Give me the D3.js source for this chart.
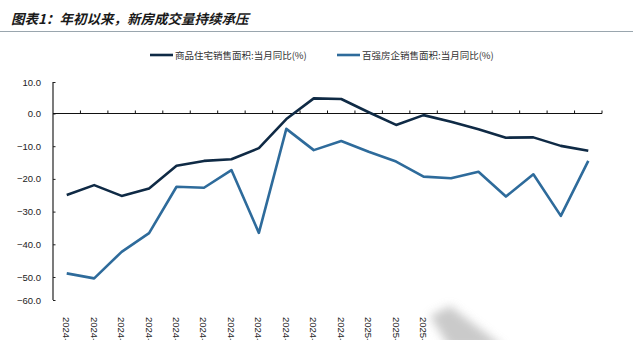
<!DOCTYPE html>
<html>
<head>
<meta charset="utf-8">
<script src="https://cdn.jsdelivr.net/npm/d3@7/dist/d3.min.js"></script>
<style>
  html, body { margin: 0; padding: 0; background: #fff; }
  svg { display: block; }
</style>
</head>
<body>
<svg id="chart" width="640" height="340"></svg>
<script>
// Monthly categories (Jan–Feb 2025 reported together)
const months = [
  "2024-02", "2024-03", "2024-04", "2024-05", "2024-06", "2024-07",
  "2024-08", "2024-09", "2024-10", "2024-11", "2024-12",
  "2025-02", "2025-03", "2025-04", "2025-05", "2025-06",
  "2025-07", "2025-08", "2025-09", "2025-10"
];
// Month labels printed under the axis
const labelledMonths = months.slice(0, 14);

// 商品住宅销售面积 当月同比 (%)
const residentialYoY = [
  -24.9, -21.9, -25.2, -22.9, -16.0, -14.5, -14.0, -10.6, -1.7, 4.8,
  4.6, 0.4, -3.5, -0.5, -2.5, -4.8, -7.4, -7.3, -9.9, -11.4
];
// 百强房企销售面积 当月同比 (%)
const top100YoY = [
  -48.9, -50.6, -42.3, -36.6, -22.4, -22.7, -17.3, -36.5, -4.7, -11.2,
  -8.4, -11.7, -14.7, -19.3, -19.8, -17.8, -25.4, -18.6, -31.3, -14.5
];

const yTicks = [10, 0, -10, -20, -30, -40, -50, -60];
const seriesNames = ["商品住宅销售面积:当月同比(%)", "百强房企销售面积:当月同比(%)"];
const seriesColors = ["#0f2a45", "#2e6b9b"];
const titleText = "图表1：年初以来，新房成交量持续承压";

const svg = d3.select("#chart");
const cjk = "'Noto Sans CJK SC', 'Noto Sans', sans-serif";
const latin = "'Liberation Sans', Arial, sans-serif";

// Title and rule beneath it
svg.append("text")
  .attr("x", 11).attr("y", 24)
  .attr("font-family", cjk)
  .attr("font-size", 13.5)
  .attr("font-weight", 700)
  .attr("font-style", "italic")
  .attr("fill", "#1a1a1a")
  .text(titleText);

svg.append("line")
  .attr("x1", 0).attr("x2", 633)
  .attr("y1", 31.5).attr("y2", 31.5)
  .attr("stroke", "#9aa6ae").attr("stroke-width", 1.2);

// Scales
const x = d3.scaleBand().domain(months).range([53, 602]);
const y = d3.scaleLinear()
  .domain([-60, -50, 0, 10])
  .range([300, 277, 113.5, 82]);

// Y axis
const yAxis = d3.axisRight(y)
  .tickValues(yTicks)
  .tickFormat(d3.format(".1f"))
  .tickSize(2.5);
const yg = svg.append("g").attr("transform", "translate(53,0)").call(yAxis);
yg.select(".domain").attr("stroke", "#222").attr("stroke-width", 1.2)
  .attr("d", `M0,${y(10)}V${y(-60)}`);
yg.selectAll(".tick line").attr("stroke", "#222");
yg.selectAll(".tick text")
  .attr("x", -12)
  .attr("text-anchor", "end")
  .attr("font-family", latin)
  .attr("font-size", 9.5)
  .attr("fill", "#222");

// Zero line with category boundary ticks
svg.append("line")
  .attr("x1", x.range()[0]).attr("x2", x.range()[1])
  .attr("y1", y(0)).attr("y2", y(0))
  .attr("stroke", "#111").attr("stroke-width", 1.2);

const bounds = months.map(m => x(m)).concat([x.range()[1]]).slice(1);
svg.append("g").selectAll("line")
  .data(bounds)
  .join("line")
  .attr("x1", d => d).attr("x2", d => d)
  .attr("y1", y(0) - 3).attr("y2", y(0))
  .attr("stroke", "#111").attr("stroke-width", 1);

// Category labels at the bottom, rotated
svg.append("g").selectAll("text")
  .data(labelledMonths)
  .join("text")
  .attr("transform", d => `translate(${x(d) + x.bandwidth() / 2 - 3.5},317) rotate(90)`)
  .attr("font-family", latin)
  .attr("font-size", 9.5)
  .attr("fill", "#222")
  .text(d => d);

// Series lines
const series = [residentialYoY, top100YoY];
const line = d3.line()
  .x((d, i) => x(months[i]) + x.bandwidth() / 2)
  .y(d => y(d));

svg.append("g").selectAll("path")
  .data(series)
  .join("path")
  .attr("d", d => line(d))
  .attr("fill", "none")
  .attr("stroke", (d, i) => seriesColors[i])
  .attr("stroke-width", 2.6)
  .attr("stroke-linejoin", "round");

// Legend
const legendX = [150, 337];
const lg = svg.append("g").selectAll("g")
  .data(seriesNames)
  .join("g")
  .attr("transform", (d, i) => `translate(${legendX[i]},55)`);
lg.append("line")
  .attr("x1", 0).attr("x2", 23)
  .attr("stroke", (d, i) => seriesColors[i])
  .attr("stroke-width", 2.6);
lg.append("text")
  .attr("x", 25).attr("y", 3.5)
  .attr("font-family", cjk)
  .attr("font-size", 9.5)
  .attr("fill", "#333")
  .text(d => d);

// Soft grey mark in the lower right corner
const defs = svg.append("defs");
defs.append("filter").attr("id", "soft")
  .attr("x", "-50%").attr("y", "-50%").attr("width", "200%").attr("height", "200%")
  .append("feGaussianBlur").attr("stdDeviation", 5);
svg.append("polygon")
  .attr("points", "430,316 450,306 505,348 450,348")
  .attr("fill", "#b4b4b4")
  .attr("opacity", 0.7)
  .attr("filter", "url(#soft)");
</script>
</body>
</html>
